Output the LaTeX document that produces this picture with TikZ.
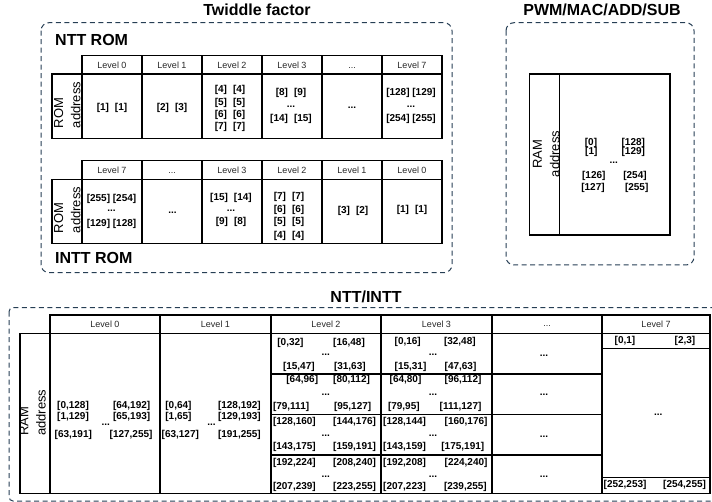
\documentclass[tikz,border=0pt]{standalone}
\usepackage{fontspec}
\setmainfont{Liberation Sans}
\definecolor{framecol}{RGB}{38,62,84}

\tikzset{
  ttl/.style={font=\bfseries\fontsize{16}{16}\selectfont, inner sep=0pt, anchor=base},
  lvl/.style={font=\fontsize{9}{9}\selectfont, text=black!85, inner sep=0pt},
  idx/.style={font=\bfseries\fontsize{10}{10}\selectfont, inner sep=0pt},
  dotsmark/.style={idx, anchor=base},
  addr/.style={rotate=90, font=\fontsize{13}{13}\selectfont, inner sep=0pt},
  frame/.style={draw=framecol, line width=1pt, dash pattern=on 5pt off 3.5pt},
  tbl/.style={draw=black, line width=1.1pt}
}
\newcommand{\igap}{\hspace{6pt}}

\begin{document}
\begin{tikzpicture}[x=1pt, y=-1pt]
  \useasboundingbox (0,0) rectangle (712,502);
  \clip (0,0) rectangle (712,502);

  % dashed frames and titles
  \draw[frame, rounded corners=8pt] (41,22.7) rectangle (452,272.7);
  \draw[frame, rounded corners=8pt] (506,22.7) rectangle (694,265);
  \draw[frame, rounded corners=4pt] (9,307.7) rectangle (722,501);
  \node[ttl] (twTitle) at (257,16) {Twiddle factor};
  \node[ttl] (pwmTitle) at (602,16) {PWM/MAC/ADD/SUB};
  \node[ttl] (nttTitle) at (366,303) {NTT/INTT};
  \node[ttl, anchor=base west] (nttRom) at (55,46) {NTT ROM};
  \node[ttl, anchor=base west] (inttRom) at (55,264) {INTT ROM};

  % NTT ROM table
  \draw[tbl] (82,55.7) rectangle (442,74);
  \draw[tbl] (52,74) rectangle (442,138.3);
  \foreach \x in {82,142,202,262,322,382} \draw[tbl] (\x,55.7) -- (\x,138.3);
  \foreach \x/\lbl in {112/Level 0, 172/Level 1, 232/Level 2, 292/Level 3, 412/Level 7}
    \node[lvl] at (\x,65) {\lbl};
  \node[lvl, anchor=base] at (352,68.7) {...};
  \node[addr, anchor=west] (romN) at (58.7,128.3) {ROM};
  \node[addr, anchor=west] (romNa) at (75.8,128.3) {address};
  \foreach \x/\y/\lbl in {112/108/{[1]\igap[1]}, 172/107.5/{[2]\igap[3]},
      230/90/{[4]\igap[4]}, 230/102.7/{[5]\igap[5]}, 230/115/{[6]\igap[6]}, 230/127.3/{[7]\igap[7]},
      291/93.3/{[8]\igap[9]}, 291/119/{[14]\igap[15]},
      411/93.3/{[128] [129]}, 411/119/{[254] [255]}}
    \node[idx] at (\x,\y) {\lbl};
  \foreach \x/\y in {291/107.4, 352/109, 411/107.4}
    \node[dotsmark] at (\x,\y) {...};

  % INTT ROM table
  \draw[tbl] (82,160.7) rectangle (442,179.3);
  \draw[tbl] (52,179.3) rectangle (442,243.7);
  \foreach \x in {82,142,202,262,322,382} \draw[tbl] (\x,160.7) -- (\x,243.7);
  \foreach \x/\lbl in {112/Level 7, 232/Level 3, 292/Level 2, 352/Level 1, 412/Level 0}
    \node[lvl] at (\x,170) {\lbl};
  \node[lvl, anchor=base] at (172,173.8) {...};
  \node[addr, anchor=west] (romI) at (58.7,233.3) {ROM};
  \node[addr, anchor=west] (romIa) at (75.8,233.3) {address};
  \foreach \x/\y/\lbl in {111.5/199.3/{[255] [254]}, 111.5/224.3/{[129] [128]},
      231/197.7/{[15]\igap[14]}, 231/222.3/{[9]\igap[8]},
      289/197.3/{[7]\igap[7]}, 289/210/{[6]\igap[6]}, 289/222.3/{[5]\igap[5]}, 289/235.7/{[4]\igap[4]},
      353/210.7/{[3]\igap[2]}, 412/210/{[1]\igap[1]}}
    \node[idx] at (\x,\y) {\lbl};
  \foreach \x/\y in {111.5/211.7, 172.5/213.4, 231/211.7}
    \node[dotsmark] at (\x,\y) {...};

  % PWM/MAC/ADD/SUB memory
  \draw[tbl] (529.3,74) rectangle (670,235);
  \draw[tbl] (559.3,74) -- (559.3,235);
  \node[addr] (ramP) at (537.5,154) {RAM};
  \node[addr] (ramPa) at (554.7,154) {address};
  \foreach \x/\y/\lbl in {591/142.7/{[0]}, 633.3/142.7/{[128]}, 591.3/151.7/{[1]}, 633.3/151.7/{[129]},
      593.8/176/{[126]}, 635/176/{[254]}, 593/188.3/{[127]}, 636.7/188.3/{[255]}}
    \node[idx] at (\x,\y) {\lbl};
  \node[dotsmark] at (613.8,164) {...};

  % NTT/INTT RAM table
  \draw[tbl] (50,315) rectangle (710,333.3);
  \draw[tbl] (20,333.3) rectangle (710,493.3);
  \foreach \x in {160,271,381,492,602} \draw[tbl] (\x,315) -- (\x,493.3);
  \draw[tbl] (50,333.3) -- (50,493.3);
  \foreach \y in {374,414.3,455} \draw[tbl] (271,\y) -- (602,\y);
  \foreach \y in {348.3,477.7} \draw[tbl] (602,\y) -- (710,\y);
  \foreach \x/\lbl in {105/Level 0, 215.5/Level 1, 326/Level 2, 436.5/Level 3, 656/Level 7}
    \node[lvl] at (\x,324.3) {\lbl};
  \node[lvl, anchor=base] at (547,326.4) {...};
  \node[addr, anchor=west] (ramB) at (24,436) {RAM};
  \node[addr, anchor=west] (ramBa) at (41,436) {address};
  \foreach \x/\y/\lbl in {57/406.2/{[0,128]}, 112.8/406.2/{[64,192]}, 57/417.2/{[1,129]}, 112.8/417.2/{[65,193]},
      54.5/435.3/{[63,191]}, 109.5/435.3/{[127,255]},
      165.2/406.2/{[0,64]}, 217.8/406.2/{[128,192]}, 165.2/417.2/{[1,65]}, 217.8/417.2/{[129,193]},
      161.5/435.3/{[63,127]}, 217.8/435.3/{[191,255]},
      277.2/342.7/{[0,32]}, 333/342.7/{[16,48]}, 282.8/367.3/{[15,47]}, 333.8/367.3/{[31,63]},
      286.2/380/{[64,96]}, 333/380/{[80,112]}, 272.8/406.7/{[79,111]}, 333.8/406.7/{[95,127]},
      272.8/421.7/{[128,160]}, 333/421.7/{[144,176]}, 272.8/447.3/{[143,175]}, 333/447.3/{[159,191]},
      272.8/462.7/{[192,224]}, 333/462.7/{[208,240]}, 272.8/487.3/{[207,239]}, 333/487.3/{[223,255]},
      394.5/341.7/{[0,16]}, 443.8/341.7/{[32,48]}, 394.5/367/{[15,31]}, 444.5/367/{[47,63]},
      389.5/380/{[64,80]}, 444.5/380/{[96,112]}, 387.8/406.7/{[79,95]}, 439.5/406.7/{[111,127]},
      383/421.7/{[128,144]}, 444.5/421.7/{[160,176]}, 383/447.3/{[143,159]}, 441.2/447.3/{[175,191]},
      383/462.7/{[192,208]}, 444.5/462.7/{[224,240]}, 383/487.3/{[207,223]}, 443.8/487.3/{[239,255]},
      614.5/340.8/{[0,1]}, 674.5/340.8/{[2,3]}, 603.5/485/{[252,253]}, 663/485/{[254,255]}}
    \node[idx, anchor=west] at (\x,\y) {\lbl};
  \foreach \x/\y in {105.8/425.6, 211.5/425.6,
      325.8/355.7, 325.8/395.7, 325.8/436.7, 325.8/477.4,
      433/355.7, 433/395.7, 433/436.7, 433/477.4,
      544/356.7, 544/395.7, 544/437.4, 544/477.4, 658.3/415.7}
    \node[dotsmark] at (\x,\y) {...};
\end{tikzpicture}
\end{document}
